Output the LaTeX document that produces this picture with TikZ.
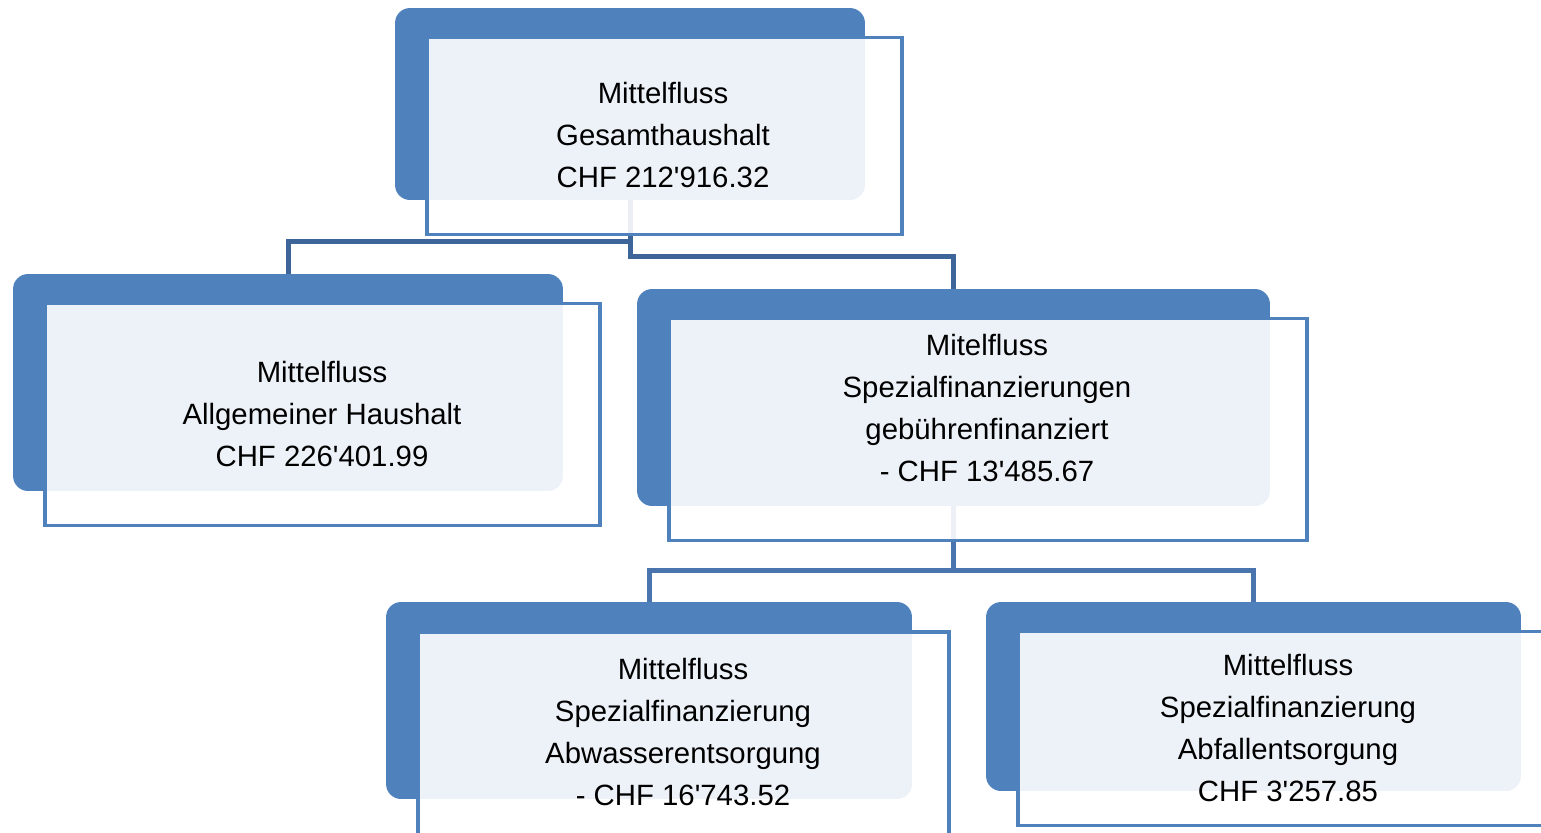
\documentclass[tikz,border=0pt]{standalone}
\usepackage{fontspec}
\setmainfont{Liberation Sans}
\definecolor{kastenblau}{HTML}{4F81BD}
\definecolor{linieA}{HTML}{3D6599}
\definecolor{linieB}{HTML}{4A74AE}
\newcommand{\apo}{\textquotesingle}
\tikzset{
	blau/.style={rectangle, rounded corners=0.3cm, fill=kastenblau, inner sep=0pt},
	rahmen/.style={rectangle, draw=kastenblau, line width=0.075cm, fill=white, fill opacity=0.9, inner sep=0pt},
	beschriftung/.style={align=center, font=\fontsize{16.7}{23.8}\selectfont, text=black, inner sep=0pt},
	verbindung/.style={line width=0.1cm}
}
\begin{document}
\begin{tikzpicture}[x=0.02cm, y=-0.02cm]
	\useasboundingbox (0,0) rectangle (1541,832);
	\clip (0,0) rectangle (1541,832);
	% blaue Kästen
	\node [blau, minimum width=9.40cm, minimum height=3.84cm] (gesamt) at (630,104) {};
	\node [blau, minimum width=11.00cm, minimum height=4.34cm] (allgemein) at (288,382.5) {};
	\node [blau, minimum width=12.66cm, minimum height=4.34cm] (spezial) at (953.5,397.5) {};
	\node [blau, minimum width=10.52cm, minimum height=3.94cm] (abwasser) at (649,700.5) {};
	\node [blau, minimum width=10.70cm, minimum height=3.78cm] (abfall) at (1253.5,696.5) {};
	% Knickpunkte
	\coordinate (knickL) at (0,241.5);
	\coordinate (knickR) at (0,256.5);
	\coordinate (knickU) at (0,570);
	%%%% Verbindungen
	\draw [verbindung, draw=linieA] (gesamt.south) -- (gesamt.south |- knickL) -| (allgemein.north);
	\draw [verbindung, draw=linieA] (gesamt.south) -- (gesamt.south |- knickR) -| (spezial.north);
	\draw [verbindung, draw=linieB] (spezial.south) -- (spezial.south |- knickU) -| (abwasser.north);
	\draw [verbindung, draw=linieB] (spezial.south) -- (spezial.south |- knickU) -| (abfall.north);
	% Rahmen
	\node [rahmen, minimum width=9.50cm, minimum height=3.94cm] (gesamt-rahmen) at (664.5,136) {};
	\node [rahmen, minimum width=11.10cm, minimum height=4.44cm] (allgemein-rahmen) at (322.5,414.5) {};
	\node [rahmen, minimum width=12.76cm, minimum height=4.44cm] (spezial-rahmen) at (988,429.5) {};
	\node [rahmen, minimum width=10.62cm, minimum height=4.14cm] (abwasser-rahmen) at (683.5,735.5) {};
	\node [rahmen, minimum width=10.80cm, minimum height=3.88cm] (abfall-rahmen) at (1288,728.5) {};
	%%%% Texte
	\node [beschriftung] (gesamt-text) at (663,135) {Mittelfluss\\Gesamthaushalt\\CHF 212\apo916.32};
	\node [beschriftung] (allgemein-text) at (322,414) {Mittelfluss\\Allgemeiner Haushalt\\CHF 226\apo401.99};
	\node [beschriftung] (spezial-text) at (987,408) {Mitelfluss\\Spezialfinanzierungen\\gebührenfinanziert\\- CHF 13\apo485.67};
	\node [beschriftung] (abwasser-text) at (683,732) {Mittelfluss\\Spezialfinanzierung\\Abwasserentsorgung\\- CHF 16\apo743.52};
	\node [beschriftung] (abfall-text) at (1288,728) {Mittelfluss\\Spezialfinanzierung\\Abfallentsorgung\\CHF 3\apo257.85};
\end{tikzpicture}
\end{document}
